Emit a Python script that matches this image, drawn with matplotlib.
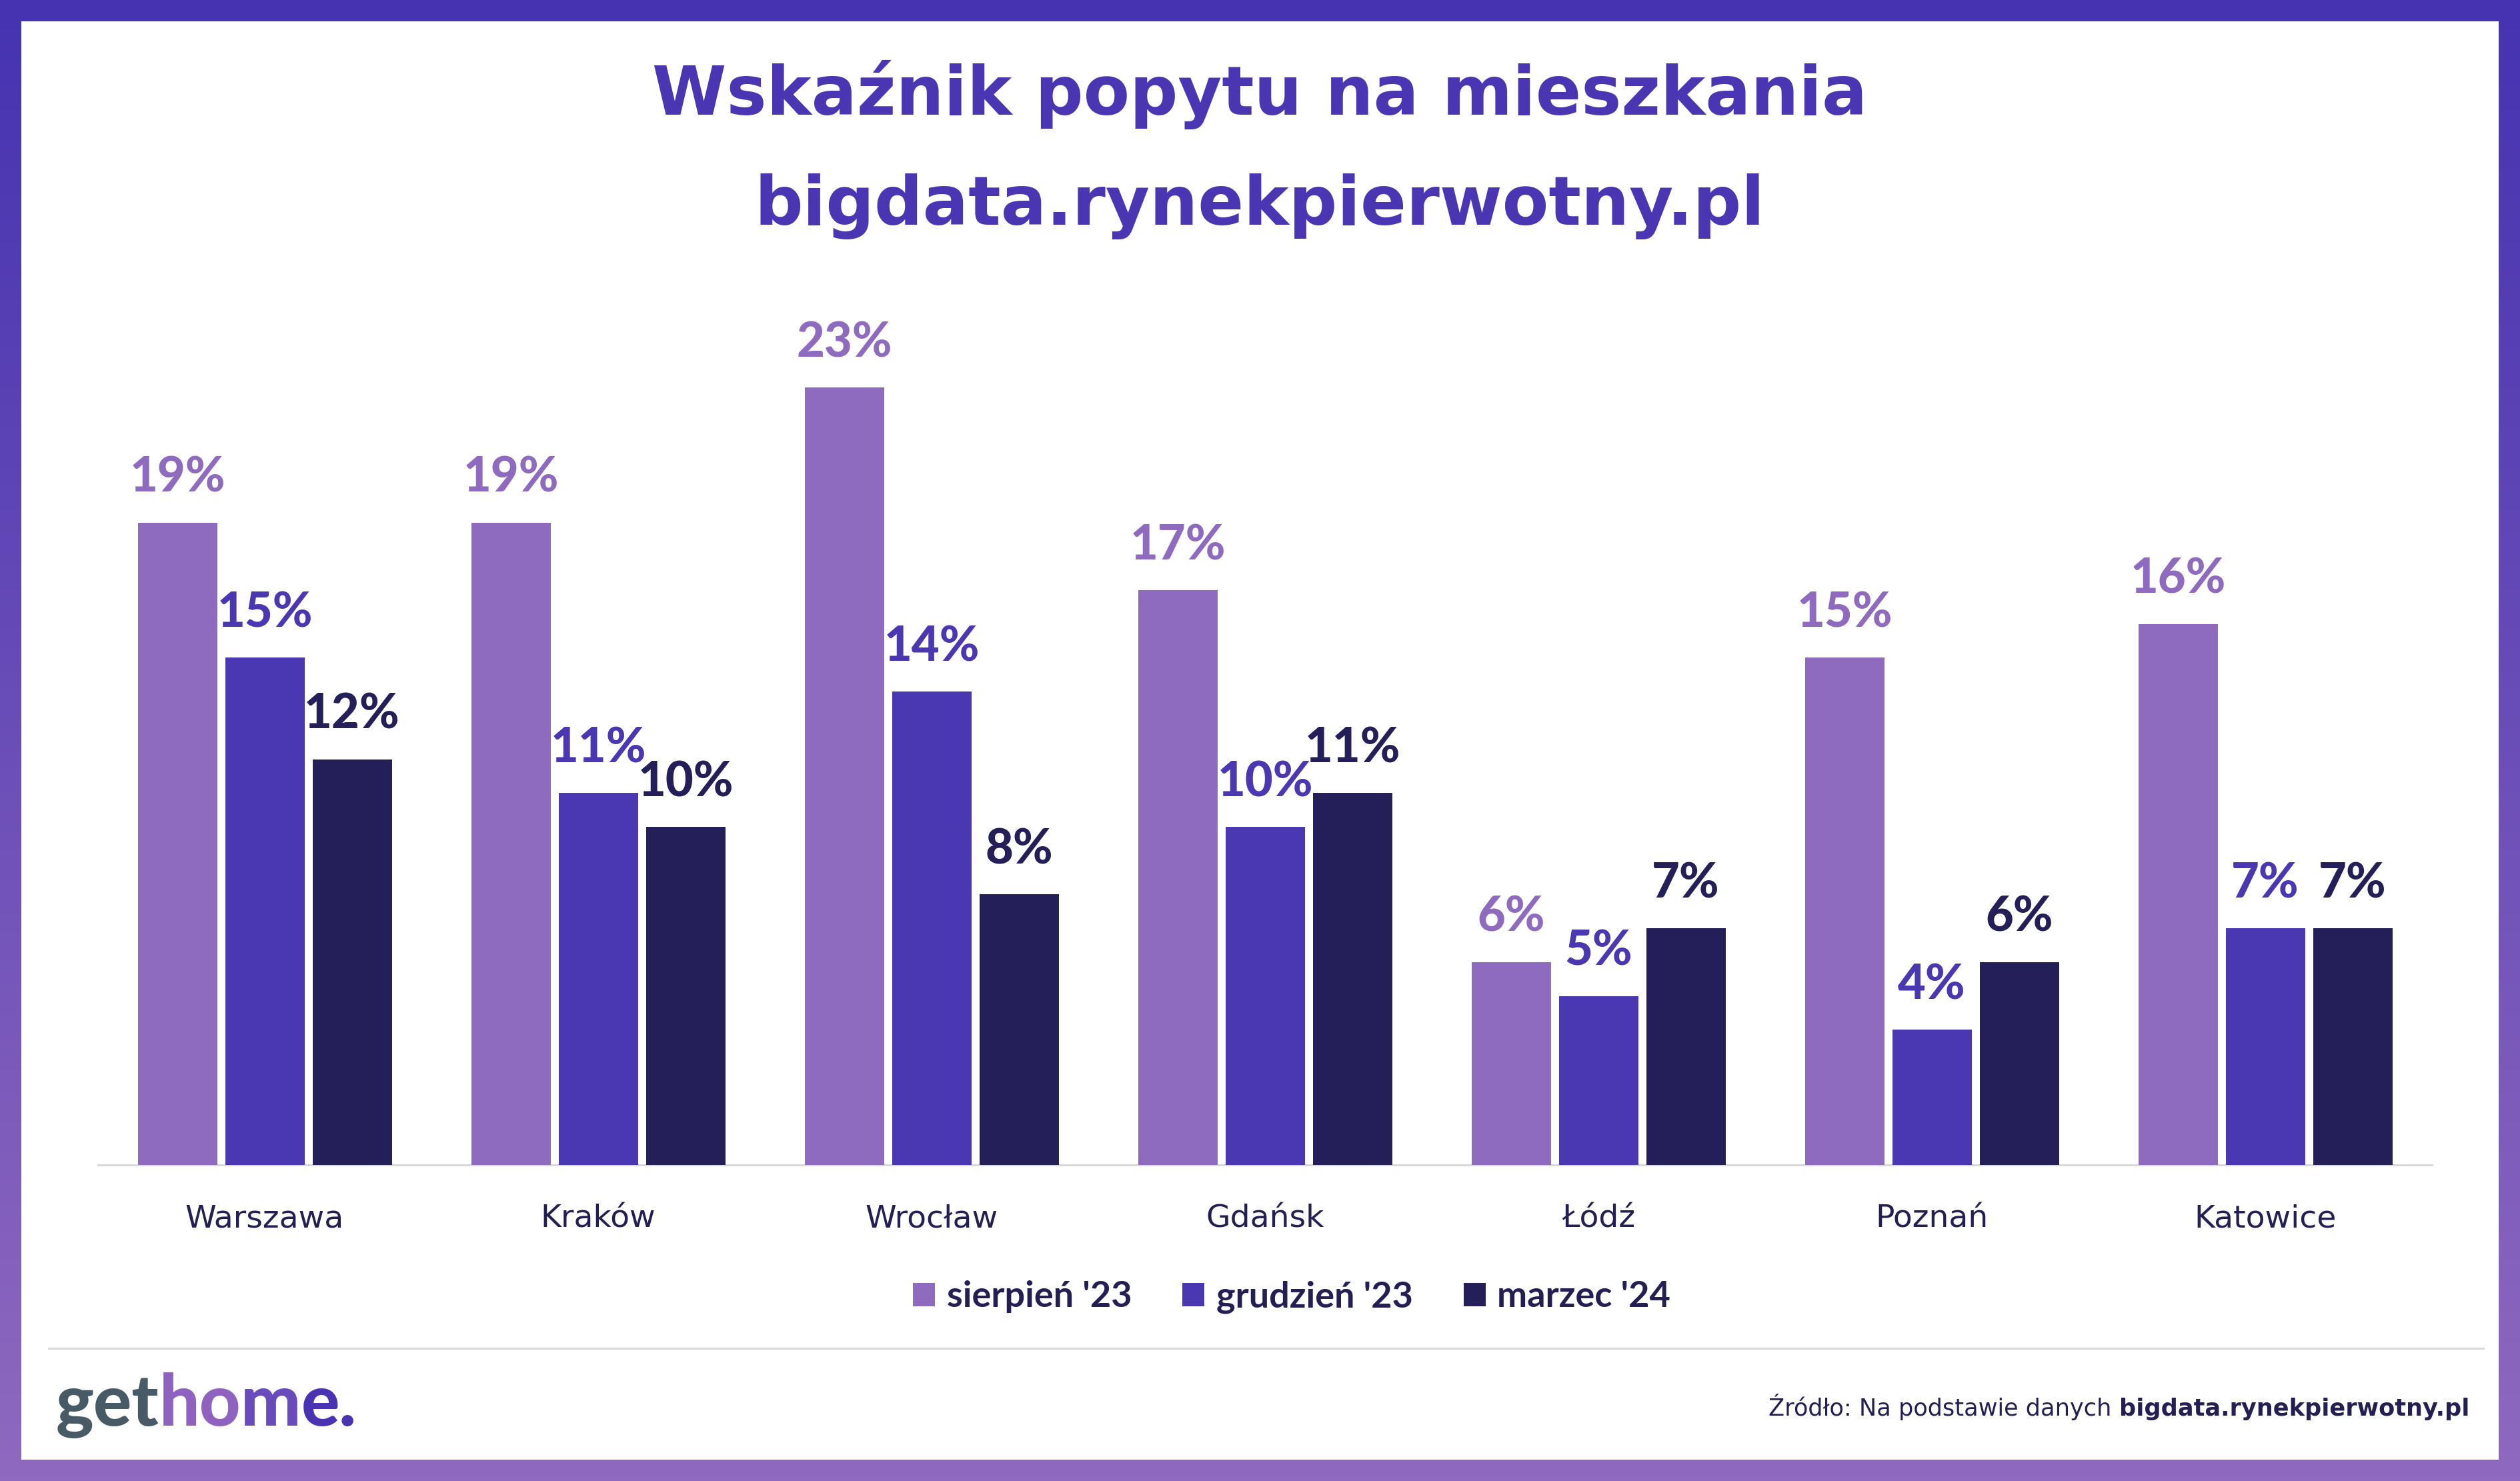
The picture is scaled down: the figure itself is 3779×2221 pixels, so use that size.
import numpy as np
import matplotlib.pyplot as plt
from matplotlib.patches import Rectangle
from matplotlib.lines import Line2D
from matplotlib.colors import LinearSegmentedColormap

plt.rcParams['font.family'] = ['Lato', 'DejaVu Sans']

# data
cities = ["Warszawa", "Kraków", "Wrocław", "Gdańsk", "Łódź", "Poznań", "Katowice"]
series_names = ["sierpień '23", "grudzień '23", "marzec '24"]
sierpien_23 = [19, 19, 23, 17, 6, 15, 16]
grudzien_23 = [15, 11, 14, 10, 5, 4, 7]
marzec_24 = [12, 10, 8, 11, 7, 6, 7]

colors = ["#8F6BC0", "#4A37B2", "#241F58"]
navy = "#231F55"
title_color = "#4A36B2"
wide = ['DejaVu Sans']

W, H = 3779, 2221
DPI = 100
fig = plt.figure(figsize=(W / DPI, H / DPI), dpi=DPI)
renderer = fig.canvas.get_renderer()


def fx(px):
    return px / W


def fy(py):
    # pixel from top -> figure fraction from bottom
    return 1 - py / H


def fit_width(texts, target_px):
    # scale font sizes so the texts together span target_px
    total = sum(t.get_window_extent(renderer).width for t in texts)
    for t in texts:
        t.set_fontsize(t.get_fontsize() * target_px / total)


# gradient frame + white card
bg = fig.add_axes([0, 0, 1, 1], zorder=0)
frame_cmap = LinearSegmentedColormap.from_list("frame", ["#4633B1", "#8F69BF"])
bg.imshow(np.linspace(0, 1, 256).reshape(-1, 1), aspect="auto", cmap=frame_cmap,
          extent=[0, W, H, 0])
bg.add_patch(Rectangle((32, 32), W - 64, H - 64, facecolor="white", edgecolor="none"))
bg.set_xlim(0, W)
bg.set_ylim(H, 0)
bg.axis("off")

# separator line above footer
bg.add_line(Line2D([73, 3724], [2022, 2022], color="#D9D9D9", lw=2.2))

# main chart
base_px, top_px = 1747, 500
px_per_unit = 50.7
ax = fig.add_axes([fx(147), fy(base_px), fx(3500), (base_px - top_px) / H], zorder=2)
ax.patch.set_alpha(0)

x = np.arange(len(cities))
width = 0.238
step = 0.262
all_series = [sierpien_23, grudzien_23, marzec_24]
bars = []
for i, (vals, col, name) in enumerate(zip(all_series, colors, series_names)):
    b = ax.bar(x + (i - 1) * step, vals, width, color=col, label=name, zorder=3)
    bars.append(b)
    for xi, v in zip(x + (i - 1) * step, vals):
        ax.annotate(f"{v}%", xy=(xi, v), xytext=(0, 33), textcoords="offset points",
                    ha="center", va="baseline", fontsize=52, fontweight="black",
                    color=col)

ax.set_xlim(-0.5, len(cities) - 0.5)
ax.set_ylim(0, (base_px - top_px) / px_per_unit)
for s in ["top", "right", "left"]:
    ax.spines[s].set_visible(False)
ax.spines["bottom"].set_color("#D9D9D9")
ax.spines["bottom"].set_linewidth(2.2)
ax.set_yticks([])
ax.set_xticks(x)
ax.set_xticklabels(cities, fontsize=34, color=navy, family=wide)
ax.tick_params(axis="x", length=0, pad=67)
for lab in ax.get_xticklabels():
    lab.set_va("baseline")

# legend
fig.legend(handles=bars, loc="center", bbox_to_anchor=(fx(1937), fy(1945)), ncol=3,
           frameon=False, prop={"size": 39, "weight": "bold"}, labelcolor=navy,
           handlelength=0.62, handleheight=0.62, handletextpad=0.32, columnspacing=1.4)

# title, fitted to the reference width
t1 = fig.text(0.5, fy(172), "Wskaźnik popytu na mieszkania", ha="center", va="baseline",
              fontsize=75, fontweight="bold", color=title_color, family=wide)
fit_width([t1], 1821)
t2 = fig.text(0.5, fy(337), "bigdata.rynekpierwotny.pl", ha="center", va="baseline",
              fontsize=75, fontweight="bold", color=title_color, family=wide)
fit_width([t2], 1514)

# source note, right aligned
src_reg = fig.text(0, fy(2123), "Źródło: Na podstawie danych ", ha="right",
                   va="baseline", fontsize=24, color=navy, family=wide)
src_bold = fig.text(fx(3703), fy(2123), "bigdata.rynekpierwotny.pl", ha="right",
                    va="baseline", fontsize=24, fontweight="bold", color=navy, family=wide)
fit_width([src_reg, src_bold], 1052)
bb = src_bold.get_window_extent(renderer)
src_reg.set_x(bb.x0 / W)

# logo
logo_parts = [("get", "#475A66"), ("ho", "#8F62BF"), ("m", "#6A4BBB"), ("e.", "#4A33B3")]
cur_x = 84
for txt, col in logo_parts:
    t = fig.text(fx(cur_x), fy(2138), txt, ha="left", va="baseline", fontsize=77,
                 fontweight="black", color=col)
    cur_x = t.get_window_extent(renderer).x1

fig.savefig("out.png", dpi=DPI)
